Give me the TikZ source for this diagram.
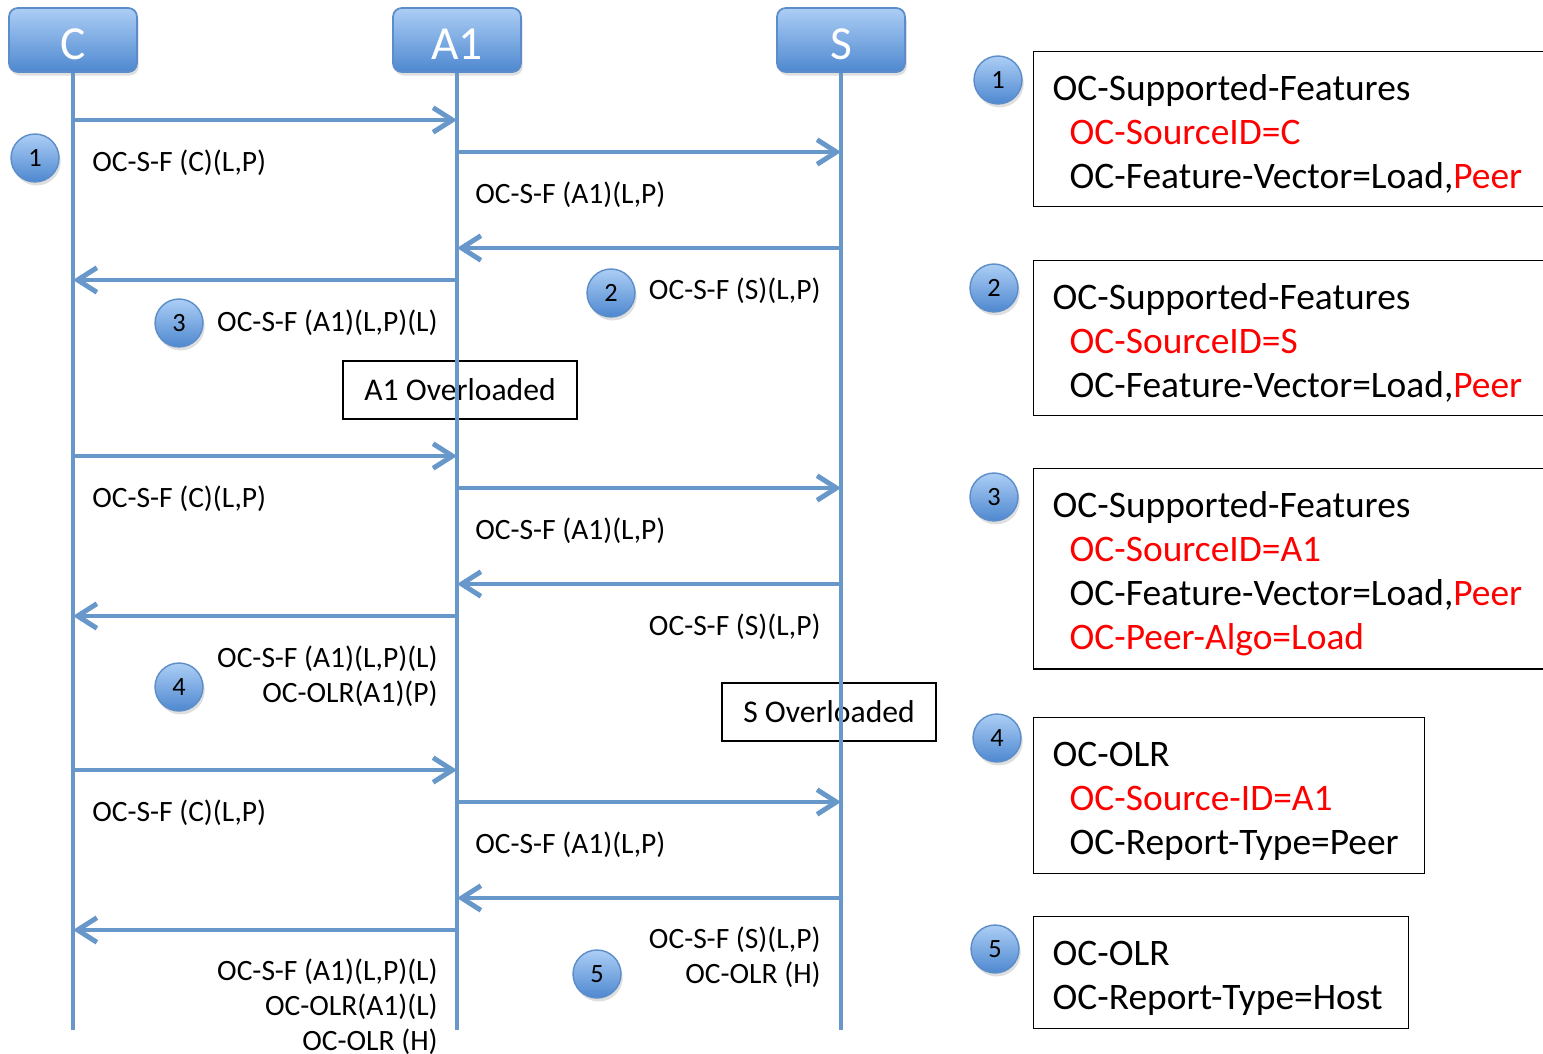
\documentclass[tikz,border=0pt]{standalone}
\usepackage{fontspec}
\setmainfont{Carlito}
\usetikzlibrary{positioning,arrows.meta,shadows}
\definecolor{lifeblue}{RGB}{104,151,201}
\definecolor{balltop}{RGB}{172,206,245}
\definecolor{ballbot}{RGB}{78,136,208}
\definecolor{balledge}{RGB}{92,141,200}
\newcommand{\redtext}[1]{\textcolor{red}{#1}}
\newcommand{\indentline}{\hspace*{0.34cm}}
\tikzset{
  >={Straight Barb[length=11pt,width=14pt]},
  actor/.style={rectangle, rounded corners=5pt, minimum width=2.56cm, minimum height=1.28cm,
    top color=balltop, bottom color=ballbot, draw=balledge, line width=1pt, text=white,
    text height=22pt, text depth=0pt,
    font=\fontsize{27}{30}\selectfont, drop shadow={opacity=0.25,shadow xshift=1pt,shadow yshift=-2pt}},
  numball/.style={circle, minimum size=0.96cm, inner sep=0pt, top color=balltop, bottom color=ballbot,
    draw=balledge, line width=0.8pt, font=\fontsize{15}{17}\selectfont,
    drop shadow={opacity=0.25,shadow xshift=1pt,shadow yshift=-2pt}},
  lifeline/.style={draw=lifeblue, line width=2.8pt},
  msg/.style={lifeline, ->},
  lbl/.style={font=\fontsize{16.8}{20}\selectfont, inner sep=0pt, align=right},
  note/.style={draw, line width=0.8pt, minimum height=1.16cm, font=\fontsize{18}{21}\selectfont},
  info/.style={draw, line width=0.8pt, anchor=north west, align=left, inner xsep=0.38cm,
    inner ysep=0.27cm, text height=20pt, font=\fontsize{21.3}{25}\selectfont}
}
\begin{document}
\begin{tikzpicture}[x=0.02cm, y=-0.02cm]
  \useasboundingbox (0,0) rectangle (1543,1054);

  % Actors
  \node[actor] (C)  at (73,40)  {C};
  \node[actor] (A1) at (457,40) {A1};
  \node[actor] (S)  at (841,40) {S};

  % Overload notes
  \node[note, minimum width=4.68cm] (A1ol) at (460,390) {A1 Overloaded};
  \node[note, minimum width=4.28cm] (Sol)  at (829,712) {S Overloaded};

  % Lifelines
  \foreach \n in {C,A1,S} {
    \coordinate (\n end) at (\n |- 0,1030);
    \draw[lifeline] (\n) -- (\n end);
  }

  % Messages
  \foreach \dy [count=\i] in {0,336,650} {
    \coordinate (ca\i) at (73,120+\dy);
    \coordinate (aa\i) at (457,120+\dy);
    \coordinate (ab\i) at (457,152+\dy);
    \coordinate (sb\i) at (841,152+\dy);
    \coordinate (sc\i) at (841,248+\dy);
    \coordinate (ac\i) at (457,248+\dy);
    \coordinate (ad\i) at (457,280+\dy);
    \coordinate (cd\i) at (73,280+\dy);
    \draw[msg] (ca\i) -- (aa\i);
    \draw[msg] (ab\i) -- (sb\i);
    \draw[msg] (sc\i) -- (ac\i);
    \draw[msg] (ad\i) -- (cd\i);
    \node[lbl, anchor=west] (lc\i) at (92,163+\dy) {OC-S-F (C)(L,P)};
    \node[lbl, anchor=west] (la\i) at (475,195+\dy) {OC-S-F (A1)(L,P)};
  }

  % Answers
  \node[lbl, anchor=east] (ls1) at (821,291) {OC-S-F (S)(L,P)};
  \node[lbl, anchor=east] (ls2) at (821,627) {OC-S-F (S)(L,P)};
  \node[lbl, anchor=east] (ls3) at (821,957) {OC-S-F (S)(L,P)\\OC-OLR (H)};
  \node[lbl, anchor=east] (lr1) at (438,323) {OC-S-F (A1)(L,P)(L)};
  \node[lbl, anchor=east] (lr2) at (438,676) {OC-S-F (A1)(L,P)(L)\\OC-OLR(A1)(P)};
  \node[lbl, anchor=east] (lr3) at (438,1007) {OC-S-F (A1)(L,P)(L)\\OC-OLR(A1)(L)\\OC-OLR (H)};

  % Step numbers
  \node[numball] (n1) at (35,158)  {1};
  \node[numball] (n2) at (611,293) {2};
  \node[numball] (n3) at (179,323) {3};
  \node[numball] (n4) at (179,687) {4};
  \node[numball] (n5) at (597,974) {5};

  % Legend
  \node[numball] (r1) at (998,80)  {1};
  \node[numball] (r2) at (994,288) {2};
  \node[numball] (r3) at (994,497) {3};
  \node[numball] (r4) at (997,738) {4};
  \node[numball] (r5) at (995,949) {5};

  \node[info, text width=9.78cm] (info1) at (1033,51) {OC-Supported-Features\\
    \indentline\redtext{OC-SourceID=C}\\
    \indentline OC-Feature-Vector=Load,\redtext{Peer}};
  \node[info, text width=9.78cm] (info2) at (1033,260) {OC-Supported-Features\\
    \indentline\redtext{OC-SourceID=S}\\
    \indentline OC-Feature-Vector=Load,\redtext{Peer}};
  \node[info, text width=9.78cm] (info3) at (1033,468) {OC-Supported-Features\\
    \indentline\redtext{OC-SourceID=A1}\\
    \indentline OC-Feature-Vector=Load,\redtext{Peer}\\
    \indentline\redtext{OC-Peer-Algo=Load}};
  \node[info, text width=7.06cm] (info4) at (1033,717) {OC-OLR\\
    \indentline\redtext{OC-Source-ID=A1}\\
    \indentline OC-Report-Type=Peer};
  \node[info, text width=6.74cm] (info5) at (1033,916) {OC-OLR\\
    OC-Report-Type=Host};

\end{tikzpicture}
\end{document}
